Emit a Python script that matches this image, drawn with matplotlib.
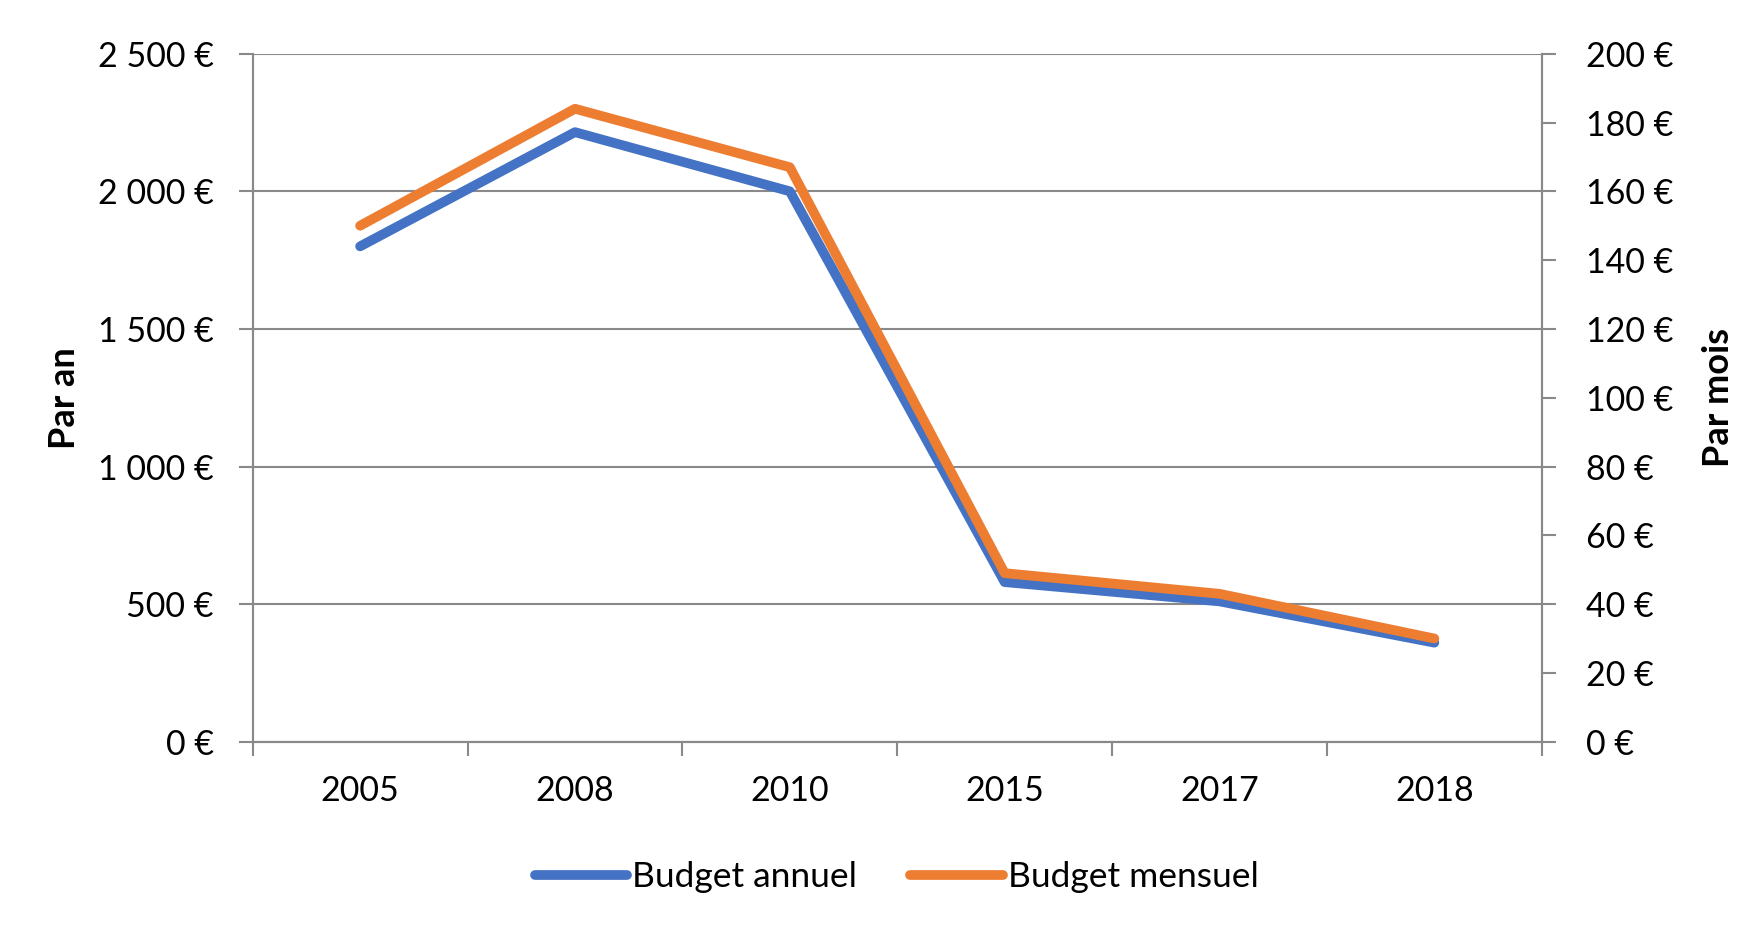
import numpy as np
import matplotlib.pyplot as plt
from matplotlib.ticker import FuncFormatter, MultipleLocator, FixedLocator
from matplotlib.lines import Line2D

years = ['2005', '2008', '2010', '2015', '2017', '2018']
budget_annuel = [1800, 2215, 2000, 580, 510, 360]
budget_mensuel = [150, 184, 167, 49, 43, 30]

BLUE = '#4472C4'
ORANGE = '#ED7D31'
GREY = '#898989'

plt.rcParams['font.family'] = ['Lato', 'DejaVu Sans']


def euro(v, pos=None):
    s = f'{int(round(v)):,}'.replace(',', ' ')
    return f'{s} €'


fig = plt.figure(figsize=(17.55, 9.26), dpi=100)
ax = fig.add_axes([0.144, 0.199, 0.7345, 0.743])
ax2 = ax.twinx()

x = np.arange(len(years))
ax.plot(x, budget_annuel, color=BLUE, lw=7, solid_capstyle='round', zorder=3)
ax2.plot(x, budget_mensuel, color=ORANGE, lw=7, solid_capstyle='round', zorder=3)

ax.set_xlim(-0.5, len(years) - 0.5)
ax.set_ylim(0, 2500)
ax2.set_ylim(0, 200)

ax.yaxis.set_major_locator(MultipleLocator(500))
ax.yaxis.set_major_formatter(FuncFormatter(euro))
ax2.yaxis.set_major_locator(MultipleLocator(20))
ax2.yaxis.set_major_formatter(FuncFormatter(euro))

ax.set_xticks(x)
ax.set_xticklabels(years)
ax.xaxis.set_minor_locator(FixedLocator(np.arange(-0.5, len(years), 1.0)))

ax.grid(axis='y', color=GREY, lw=1.5, zorder=0)
ax.set_axisbelow(True)

for a in (ax, ax2):
    a.spines['top'].set_visible(False)
    for s in ('left', 'right', 'bottom'):
        a.spines[s].set_color(GREY)
        a.spines[s].set_linewidth(1.5)

ax.tick_params(axis='y', length=10, width=1.5, color=GREY, pad=18, labelsize=24.5)
ax2.tick_params(axis='y', length=10, width=1.5, color=GREY, pad=22, labelsize=24.5)
ax.tick_params(axis='x', which='major', length=0, pad=24, labelsize=24.5)
ax.tick_params(axis='x', which='minor', length=10, width=1.5, color=GREY)

ax.set_ylabel('Par an', fontsize=26, fontweight='bold')
ax.yaxis.set_label_coords(-0.133, 0.5)
ax2.set_ylabel('Par mois', fontsize=26, fontweight='bold')
ax2.yaxis.set_label_coords(1.124, 0.5)

handles = [Line2D([], [], color=BLUE, lw=7, solid_capstyle='round'),
           Line2D([], [], color=ORANGE, lw=7, solid_capstyle='round')]
fig.legend(handles, ['Budget annuel', 'Budget mensuel'], loc='center',
           bbox_to_anchor=(0.511, 0.053), ncol=2, frameon=False, fontsize=25.5,
           handlelength=2.6, handletextpad=0.15, columnspacing=1.5)

fig.savefig('out.png', dpi=100)
